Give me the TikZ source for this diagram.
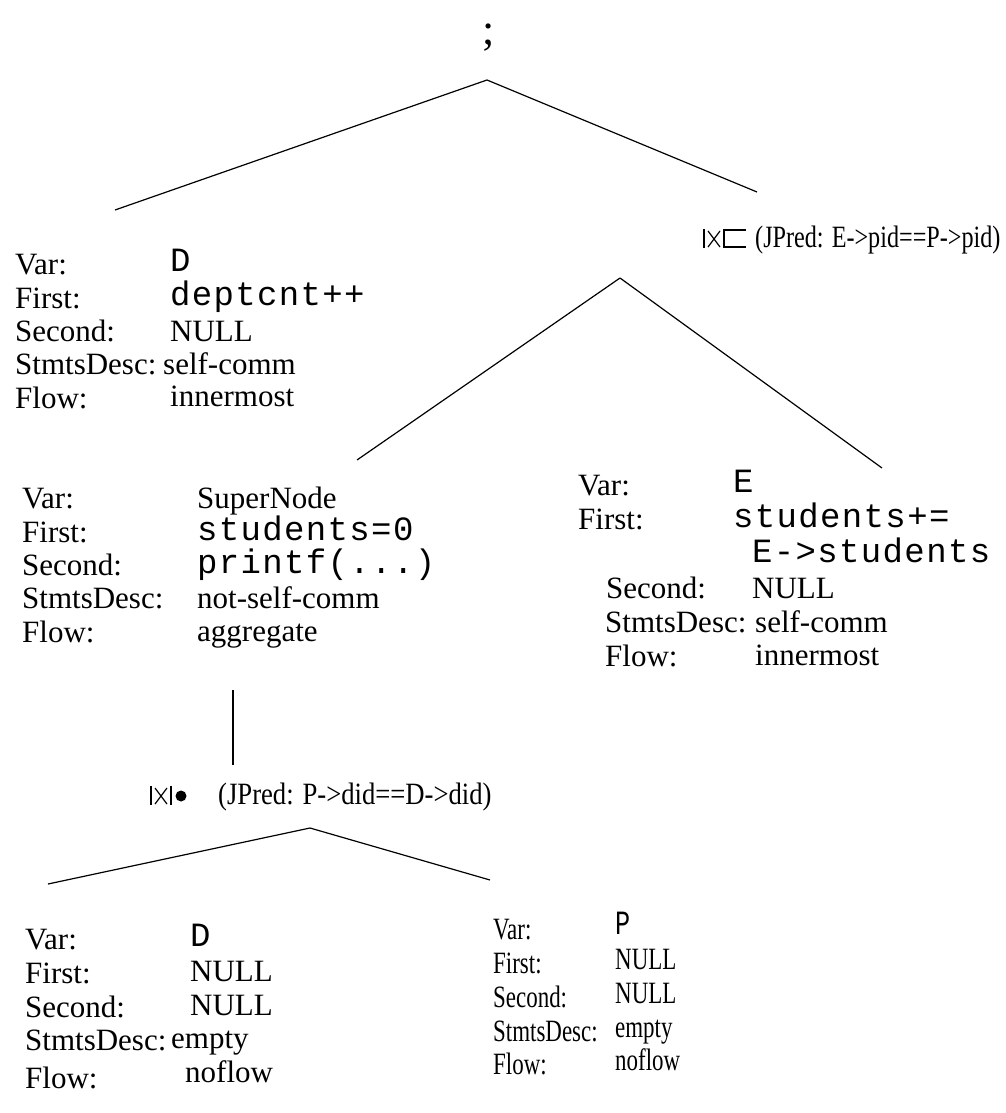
\documentclass[tikz,border=0pt]{standalone}
\usepackage{graphicx}
\usepackage{fontspec}
\setmainfont{Liberation Serif}
\newfontfamily\cour[LetterSpace=4]{Liberation Mono}
% horizontally condensed text
\newcommand\condensed[2]{\scalebox{#1}[1]{#2}}
\begin{document}
\begin{tikzpicture}[x=1pt,y=-1pt,
  txt/.style={anchor=base west,inner sep=0pt,font=\fontsize{31}{36}\selectfont},
  code/.style={anchor=base west,inner sep=0pt,font=\cour\fontsize{34}{38}\selectfont},
  jlabel/.style={anchor=base west,inner sep=0pt,font=\fontsize{31}{36}\selectfont},
  edge/.style={line width=1.2pt},
  sym/.style={line width=1.2pt}]
\useasboundingbox (0,0) rectangle (1005,1113);

% root
\node[inner sep=0pt,font=\fontsize{44}{48}\selectfont] (root) at (489,38) {;};
\coordinate (rootB) at (487,80);
\coordinate (lA) at (115,210);
\coordinate (rA) at (757,192);
\draw[edge] (rootB) -- (lA);
\draw[edge] (rootB) -- (rA);

% left leaf: D
\node[txt]  (d1v)  at (15,274)  {Var:};
\node[txt]  (d1f)  at (15,308)  {First:};
\node[txt]  (d1s)  at (15,341)  {Second:};
\node[txt]  (d1d)  at (15,374)  {StmtsDesc:};
\node[txt]  (d1w)  at (15,408)  {Flow:};
\node[code] (d1vv) at (170,271) {D};
\node[code] (d1fv) at (170,305) {deptcnt++};
\node[txt]  (d1sv) at (170,341) {NULL};
\node[txt]  (d1dv) at (163,374) {self-comm};
\node[txt]  (d1wv) at (170,406) {innermost};

% outer join node
\node[jlabel] (j1) at (755,247) {\condensed{0.78}{(JPred: E->pid==P->pid)}};
\draw[sym] (704,229) -- (704,248);
\draw[sym] (708,231) -- (720,247) (720,231) -- (708,247);
\draw[sym] (724,229) -- (724,248);
\draw[sym] (724,230) -- (746,230);
\draw[sym] (724,247) -- (746,247);

\coordinate (j1B) at (620,278);
\coordinate (sA) at (357,460);
\coordinate (eA) at (882,468);
\draw[edge] (j1B) -- (sA);
\draw[edge] (j1B) -- (eA);

% super node
\node[txt]  (sv)  at (22,508) {Var:};
\node[txt]  (sf)  at (22,542) {First:};
\node[txt]  (ss)  at (22,575) {Second:};
\node[txt]  (sd)  at (22,608) {StmtsDesc:};
\node[txt]  (sw)  at (22,642) {Flow:};
\node[txt]  (svv) at (197,508) {SuperNode};
\node[code] (sfv) at (197,540) {students=0};
\node[code] (ssv) at (197,573) {printf(...)};
\node[txt]  (sdv) at (197,608) {not-self-comm};
\node[txt]  (swv) at (197,641) {aggregate};

% right leaf: E
\node[txt]  (ev)  at (578,495) {Var:};
\node[txt]  (ef)  at (578,529) {First:};
\node[txt]  (es)  at (606,598) {Second:};
\node[txt]  (ed)  at (605,632) {StmtsDesc:};
\node[txt]  (ew)  at (605,666) {Flow:};
\node[code] (evv) at (733,492) {E};
\node[code] (efv) at (733,527) {students+=};
\node[code] (efv2) at (752,562) {E->students};
\node[txt]  (esv) at (752,598) {NULL};
\node[txt]  (edv) at (755,632) {self-comm};
\node[txt]  (ewv) at (755,665) {innermost};

% super node to inner join
\coordinate (sB) at (233,690);
\coordinate (j2T) at (233,765);
\draw[edge] (sB) -- (j2T);

% inner join node
\node[jlabel] (j2) at (218,804) {\condensed{0.86}{(JPred: P->did==D->did)}};
\draw[sym] (151,786) -- (151,805);
\draw[sym] (155,788) -- (167,804) (167,788) -- (155,804);
\draw[sym] (171,786) -- (171,805);
\fill (181,796) circle (5.5pt);

\coordinate (j2B) at (310,828);
\coordinate (dA) at (48,884);
\coordinate (pA) at (490,880);
\draw[edge] (j2B) -- (dA);
\draw[edge] (j2B) -- (pA);

% bottom leaf: D
\node[txt]  (d2v)  at (25,949)  {Var:};
\node[txt]  (d2f)  at (25,983)  {First:};
\node[txt]  (d2s)  at (25,1017) {Second:};
\node[txt]  (d2d)  at (25,1050) {StmtsDesc:};
\node[txt]  (d2w)  at (25,1088) {Flow:};
\node[code] (d2vv) at (190,946)  {D};
\node[txt]  (d2fv) at (190,981)  {NULL};
\node[txt]  (d2sv) at (190,1015) {NULL};
\node[txt]  (d2dv) at (171,1048) {empty};
\node[txt]  (d2wv) at (185,1082) {noflow};

% bottom leaf: P
\node[txt]  (pv)  at (493,939)  {\condensed{0.74}{Var:}};
\node[txt]  (pf)  at (493,973)  {\condensed{0.74}{First:}};
\node[txt]  (ps)  at (493,1007) {\condensed{0.74}{Second:}};
\node[txt]  (pd)  at (493,1041) {\condensed{0.74}{StmtsDesc:}};
\node[txt]  (pw)  at (493,1074) {\condensed{0.74}{Flow:}};
\node[code] (pvv) at (615,934)  {\condensed{0.74}{P}};
\node[txt]  (pfv) at (615,969)  {\condensed{0.74}{NULL}};
\node[txt]  (psv) at (615,1003) {\condensed{0.74}{NULL}};
\node[txt]  (pdv) at (615,1037) {\condensed{0.74}{empty}};
\node[txt]  (pwv) at (615,1070) {\condensed{0.74}{noflow}};
\end{tikzpicture}
\end{document}
